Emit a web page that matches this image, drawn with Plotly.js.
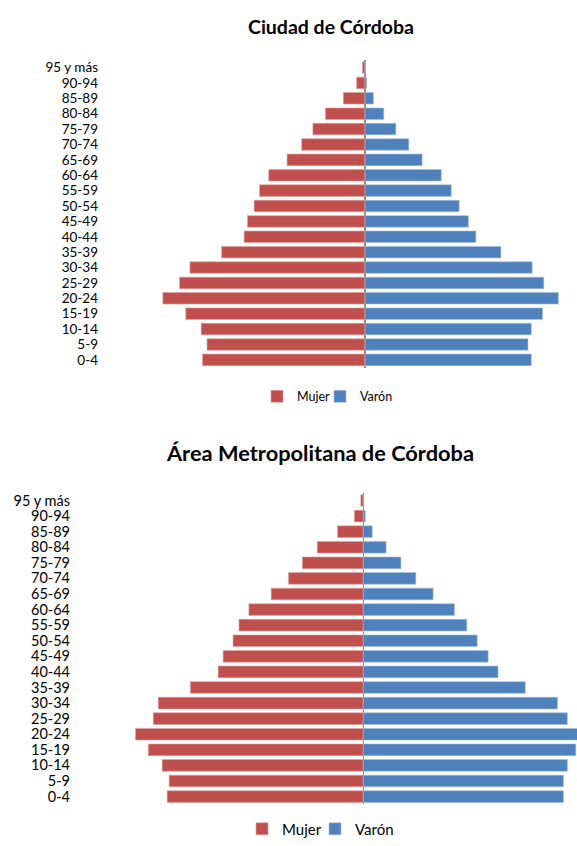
<!DOCTYPE html>
<html>
<head>
<meta charset="utf-8">
<script src="https://cdn.plot.ly/plotly-3.0.1.min.js"></script>
<style>html,body{margin:0;padding:0;background:#fff;}#chart{width:577px;height:846px;}</style>
</head>
<body>
<div id="chart"></div>
<script>
// Age groups (bottom to top)
const ageGroups = ["0-4","5-9","10-14","15-19","20-24","25-29","30-34","35-39","40-44","45-49",
  "50-54","55-59","60-64","65-69","70-74","75-79","80-84","85-89","90-94","95 y más"];

// Ciudad de Córdoba (% of population)
const ciudadMujer = [3.90,3.79,3.93,4.30,4.85,4.45,4.20,3.44,2.90,2.82,2.66,2.53,2.31,1.87,1.52,1.25,0.95,0.52,0.20,0.06];
const ciudadVaron = [3.99,3.91,3.99,4.26,4.64,4.29,4.01,3.26,2.66,2.48,2.26,2.07,1.83,1.37,1.05,0.74,0.45,0.20,0.04,0.01];

// Área Metropolitana de Córdoba (% of population)
const areaMujer = [3.96,3.92,4.06,4.34,4.60,4.24,4.14,3.49,2.93,2.83,2.63,2.51,2.31,1.86,1.51,1.23,0.93,0.52,0.18,0.05];
const areaVaron = [4.04,4.04,4.12,4.29,4.54,4.12,3.92,3.27,2.72,2.52,2.30,2.09,1.84,1.41,1.06,0.76,0.46,0.18,0.04,0.01];

const seriesNames = ["Mujer","Varón"];
const colMujer = "#C0504D", colVaron = "#4F81BD";
const FONT = "Lato, 'Open Sans', sans-serif";

const W = 577, H = 846;
const fx = px => px / W;
const fy = px => 1 - px / H;

const neg = arr => arr.map(v => -v);

const traces = [
  {type:"bar", orientation:"h", y:ageGroups, x:neg(ciudadMujer), name:seriesNames[0], showlegend:true,
   marker:{color:colMujer, line:{color:"#dca3a1", width:0.6}}, xaxis:"x", yaxis:"y", legend:"legend"},
  {type:"bar", orientation:"h", y:ageGroups, x:ciudadVaron, name:seriesNames[1], showlegend:true,
   marker:{color:colVaron, line:{color:"#a7c0de", width:0.6}}, xaxis:"x", yaxis:"y", legend:"legend2"},
  {type:"bar", orientation:"h", y:ageGroups, x:neg(areaMujer), name:seriesNames[0], showlegend:true,
   marker:{color:colMujer, line:{color:"#dca3a1", width:0.6}}, xaxis:"x2", yaxis:"y2", legend:"legend3"},
  {type:"bar", orientation:"h", y:ageGroups, x:areaVaron, name:seriesNames[1], showlegend:true,
   marker:{color:colVaron, line:{color:"#a7c0de", width:0.6}}, xaxis:"x2", yaxis:"y2", legend:"legend4"}
];

// pixel geometry
const geoTop = {left:103, center:365, scale:41.68, yTop:60.5, yBot:371.5};
const geoBot = {left:75, center:363.3, scale:49.53, yTop:498, yBot:813};

function xax(g, anchor){
  return {domain:[fx(g.left),1], range:[-(g.center-g.left)/g.scale, (W-g.center)/g.scale],
    anchor:anchor, showticklabels:false, showgrid:false, ticks:"", showline:false,
    zeroline:true, zerolinecolor:"#8c8c8c", zerolinewidth:1.5, fixedrange:true};
}
function yax(g, anchor, size){
  return {domain:[fy(g.yBot), fy(g.yTop)], anchor:anchor, type:"category",
    categoryorder:"array", categoryarray:ageGroups, range:[-0.5, ageGroups.length-0.5],
    tickmode:"array", tickvals:ageGroups, ticktext:ageGroups,
    showgrid:false, ticks:"", showline:false, zeroline:false,
    tickfont:{family:FONT, size:size, color:"#000"}, ticklabelstandoff:4};
}
function leg(xLeft, yMid, size){
  return {visible:true, orientation:"h", x:fx(xLeft), xanchor:"left", y:fy(yMid), yanchor:"middle",
    font:{family:FONT, size:size, color:"#000"}, itemwidth:30, tracegroupgap:0,
    bgcolor:"rgba(0,0,0,0)", borderwidth:0};
}

const layout = {
  width:W, height:H, margin:{l:0,r:0,t:0,b:0},
  paper_bgcolor:"#fff", plot_bgcolor:"#fff",
  showlegend:true,
  barmode:"overlay", bargap:0.25,
  font:{family:FONT, color:"#000"},
  xaxis:xax(geoTop,"y"), yaxis:yax(geoTop,"x",13.5),
  xaxis2:xax(geoBot,"y2"), yaxis2:yax(geoBot,"x2",14.5),
  legend:leg(257,401,12.5), legend2:leg(320,401,12.5),
  legend3:leg(242,838,15), legend4:leg(315,838,15),
  annotations:[
    {text:"<b>Ciudad de Córdoba</b>", xref:"paper", yref:"paper", x:fx(331), y:fy(27),
     xanchor:"center", yanchor:"middle", showarrow:false, font:{family:FONT, size:19.5, color:"#000"}},
    {text:"<b>Área Metropolitana de Córdoba</b>", xref:"paper", yref:"paper", x:fx(320), y:fy(457),
     xanchor:"center", yanchor:"middle", showarrow:false, font:{family:FONT, size:21.8, color:"#000"}}
  ]
};

Plotly.newPlot("chart", traces, layout, {displayModeBar:false, staticPlot:true});
</script>
</body>
</html>
